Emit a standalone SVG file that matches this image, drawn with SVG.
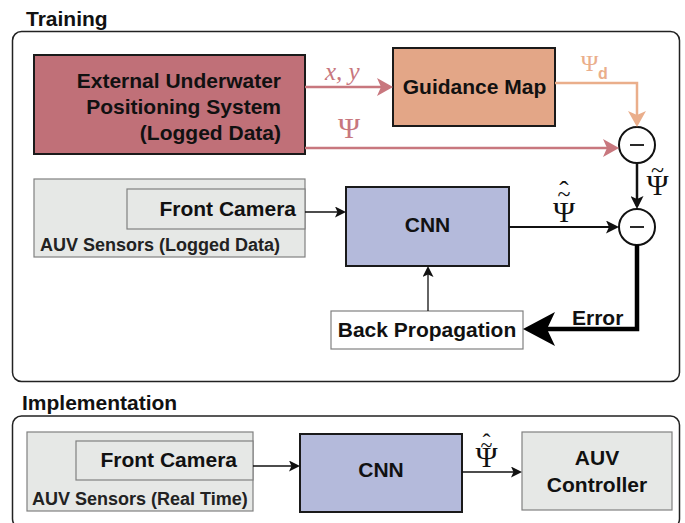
<svg xmlns="http://www.w3.org/2000/svg" width="685" height="523" viewBox="0 0 685 523">
<style>
.t{font-family:"Liberation Sans",Arial,sans-serif;font-weight:bold;font-size:21px;fill:#111}
.ts{font-family:"Liberation Sans",Arial,sans-serif;font-weight:bold;font-size:18px;fill:#222}
.frame{fill:none;stroke:#222;stroke-width:1.5}
.psi{font-family:"Liberation Serif","Times New Roman",serif;font-size:30px}
.til{font-size:24px}
.hat{font-size:28px}
.gray{fill:#e6e8e6;stroke:#808080;stroke-width:1.2}
.dark{stroke:#1a1a1a;stroke-width:2}
</style>
<defs>
<marker id="ap" viewBox="0 0 16 18" refX="12" refY="9" markerWidth="16" markerHeight="18" markerUnits="userSpaceOnUse" orient="auto"><path d="M16,9 L0,0 L4,9 L0,18 Z" fill="#c8777e"/></marker>
<marker id="ao" viewBox="0 0 16 18" refX="12" refY="9" markerWidth="16" markerHeight="18" markerUnits="userSpaceOnUse" orient="auto"><path d="M16,9 L0,0 L4,9 L0,18 Z" fill="#eaae8b"/></marker>
<marker id="ab" viewBox="0 0 13 13" refX="10" refY="6.5" markerWidth="13" markerHeight="13" markerUnits="userSpaceOnUse" orient="auto"><path d="M13,6.5 L0,0 L3,6.5 L0,13 Z" fill="#111"/></marker>
<marker id="as" viewBox="0 0 11 11" refX="9" refY="5.5" markerWidth="11" markerHeight="11" markerUnits="userSpaceOnUse" orient="auto"><path d="M11,5.5 L0,0 L2.5,5.5 L0,11 Z" fill="#111"/></marker>
<marker id="ae" viewBox="0 0 32 34" refX="26" refY="17" markerWidth="32" markerHeight="34" markerUnits="userSpaceOnUse" orient="auto"><path d="M32,17 L0,0 L8,17 L0,34 Z" fill="#000"/></marker>
</defs>

<!-- frames -->
<text class="t" x="26" y="26">Training</text>
<rect class="frame" x="12.5" y="31.5" width="667" height="350" rx="9"/>
<text class="t" x="22" y="410">Implementation</text>
<rect class="frame" x="12.5" y="416" width="667" height="112" rx="9"/>

<!-- Training nodes -->
<g id="external">
<rect x="34" y="55" width="271" height="99" fill="#c07078" class="dark"/>
<text class="t" x="281" y="87.5" text-anchor="end">External Underwater</text>
<text class="t" x="281" y="113.5" text-anchor="end">Positioning System</text>
<text class="t" x="281" y="139.5" text-anchor="end">(Logged Data)</text>
</g>
<g id="guidance">
<rect x="393" y="48" width="162" height="78" fill="#e3a687" class="dark"/>
<text class="t" x="474.5" y="93.5" text-anchor="middle">Guidance Map</text>
</g>
<g id="sub1">
<circle cx="637" cy="145" r="18" fill="#fff" stroke="#111" stroke-width="2"/>
<line x1="630" y1="145" x2="644" y2="145" stroke="#111" stroke-width="1.8"/>
</g>
<g id="sub2">
<circle cx="637" cy="227" r="18" fill="#fff" stroke="#111" stroke-width="2"/>
<line x1="630" y1="227" x2="644" y2="227" stroke="#111" stroke-width="1.8"/>
</g>
<g id="sensors1">
<rect x="34" y="179" width="271" height="78" class="gray"/>
<rect x="127" y="189" width="178" height="40" class="gray"/>
<text class="t" x="296" y="215.5" text-anchor="end">Front Camera</text>
<text class="ts" x="40" y="250.5">AUV Sensors (Logged Data)</text>
</g>
<g id="cnn1">
<rect x="346" y="187" width="163" height="79" fill="#b4badb" class="dark"/>
<text class="t" x="427.5" y="231.5" text-anchor="middle">CNN</text>
</g>
<g id="backprop">
<rect x="331" y="311" width="192" height="38" fill="#fff" stroke="#808080" stroke-width="1.2"/>
<text class="t" x="427" y="337" text-anchor="middle">Back Propagation</text>
</g>

<!-- Implementation nodes -->
<g id="sensors2">
<rect x="27" y="432" width="226" height="79" class="gray"/>
<rect x="76" y="441" width="177" height="39" class="gray"/>
<text class="t" x="237" y="466.5" text-anchor="end">Front Camera</text>
<text class="ts" x="32" y="505">AUV Sensors (Real Time)</text>
</g>
<g id="cnn2">
<rect x="300" y="434" width="162" height="78" fill="#b4badb" class="dark"/>
<text class="t" x="381" y="477" text-anchor="middle">CNN</text>
</g>
<g id="controller">
<rect x="522" y="432" width="150" height="78" class="gray"/>
<text class="t" x="597" y="465" text-anchor="middle">AUV</text>
<text class="t" x="597" y="492" text-anchor="middle">Controller</text>
</g>

<!-- connectors -->
<g id="connectors" fill="none">
<line x1="305" y1="87" x2="389" y2="87" stroke="#c8777e" stroke-width="2.5" marker-end="url(#ap)"/>
<line x1="305" y1="148" x2="615" y2="148" stroke="#c8777e" stroke-width="2.5" marker-end="url(#ap)"/>
<polyline points="555,83 637,83 637,123" stroke="#eaae8b" stroke-width="2.5" marker-end="url(#ao)"/>
<line x1="637" y1="163" x2="637" y2="206" stroke="#111" stroke-width="2.5" marker-end="url(#ab)"/>
<line x1="509" y1="227" x2="616" y2="227" stroke="#111" stroke-width="2" marker-end="url(#ab)"/>
<line x1="305" y1="212" x2="344" y2="212" stroke="#111" stroke-width="1.5" marker-end="url(#as)"/>
<line x1="428" y1="311" x2="428" y2="268" stroke="#111" stroke-width="1.3" marker-end="url(#as)"/>
<polyline points="637,245 637,329 529,329" stroke="#000" stroke-width="4.5" marker-end="url(#ae)"/>
<line x1="253" y1="466" x2="298" y2="466" stroke="#111" stroke-width="1.5" marker-end="url(#as)"/>
<line x1="462" y1="472" x2="520" y2="472" stroke="#111" stroke-width="1.5" marker-end="url(#as)"/>
</g>

<!-- labels -->
<g id="labels">
<text x="325" y="80" font-family="'Liberation Serif','Times New Roman',serif" font-style="italic" font-size="25" fill="#c8777e">x, y</text>
<text class="psi" x="349" y="138" text-anchor="middle" fill="#c8777e">Ψ</text>
<text font-family="'Liberation Serif','Times New Roman',serif" fill="#eaae8b"><tspan x="589.5" y="70.5" font-size="24" text-anchor="middle">Ψ</tspan><tspan x="598" y="79" font-family="'Liberation Sans',Arial,sans-serif" font-weight="bold" font-size="16">d</tspan></text>
<text class="psi" fill="#111" text-anchor="middle"><tspan x="657.5" y="195">Ψ</tspan><tspan class="til" x="657.5" y="177.5">~</tspan></text>
<text class="psi" fill="#111" text-anchor="middle"><tspan x="564" y="222">Ψ</tspan><tspan class="til" x="564" y="202">~</tspan><tspan class="hat" x="564" y="200">ˆ</tspan></text>
<text class="psi" fill="#111" text-anchor="middle" font-size="26"><tspan x="486.5" y="467">Ψ</tspan><tspan x="486.5" y="451.5" font-size="22">~</tspan><tspan x="486.5" y="450" font-size="24">ˆ</tspan></text>
<text class="t" x="572" y="325">Error</text>
</g>
</svg>
